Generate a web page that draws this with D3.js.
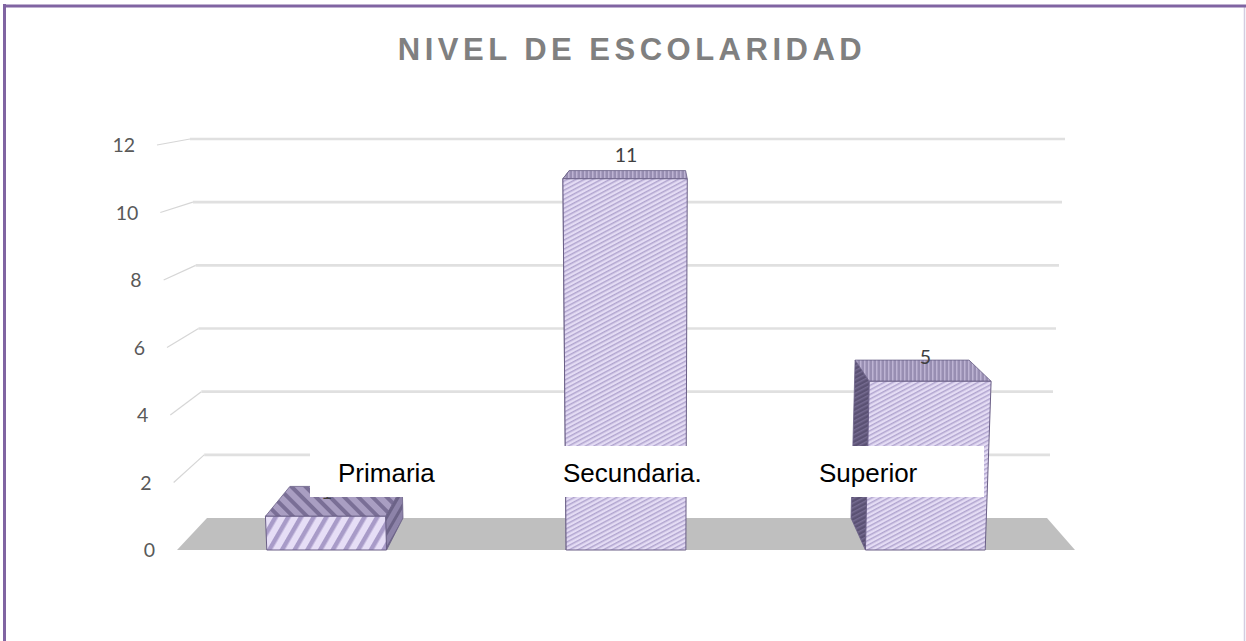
<!DOCTYPE html>
<html>
<head>
<meta charset="utf-8">
<script src="https://cdn.jsdelivr.net/npm/d3@7/dist/d3.min.js"></script>
<style>
  html, body { margin: 0; padding: 0; background: #fff; }
  svg { display: block; }
</style>
</head>
<body>
<svg id="chart" width="1246" height="641"></svg>
<script>
// ---- data ----
const title = "NIVEL DE ESCOLARIDAD";
const categories = ["Primaria", "Secundaria.", "Superior"];
const values = [1, 11, 5];
const yTicks = [0, 2, 4, 6, 8, 10, 12];

// ---- layout ----
const W = 1246, H = 641;
const svg = d3.select("#chart");

// perspective planes: front (z=0) and back (z=1)
const yFront = d3.scaleLinear().domain([0, 12]).range([550, 145]);
const yBack = d3.scaleLinear().domain([0, 12]).range([518, 139]);
const leftFront = d3.scaleLinear().domain([0, 12]).range([177, 157]);
const rightFront = d3.scaleLinear().domain([0, 12]).range([1075, 1093]);
const leftBack = d3.scaleLinear().domain([0, 12]).range([207, 190]);
const rightBack = d3.scaleLinear().domain([0, 12]).range([1047, 1065]);
const xBand = d3.scaleBand().domain(categories).range([0, 1])
  .paddingInner(0.6).paddingOuter(0.3);

function P(u, v, z) {
  const fx = leftFront(v) + u * (rightFront(v) - leftFront(v));
  const bx = leftBack(v) + u * (rightBack(v) - leftBack(v));
  const fy = yFront(v), by = yBack(v);
  return [fx + z * (bx - fx), fy + z * (by - fy)];
}
const poly = pts => pts.map(p => p.join(",")).join(" ");

// ---- patterns ----
const defs = svg.append("defs");
function stripes(id, base, stripe, size, sw, angle) {
  const p = defs.append("pattern").attr("id", id)
    .attr("patternUnits", "userSpaceOnUse")
    .attr("width", size).attr("height", size)
    .attr("patternTransform", `rotate(${angle})`);
  p.append("rect").attr("width", size).attr("height", size).attr("fill", base);
  p.append("rect").attr("x", 0).attr("y", 0).attr("width", sw).attr("height", size).attr("fill", stripe);
}
stripes("frontWide", "#e6def6", "#a89bc8", 11, 4.5, 30);
stripes("topWide", "#a99ec2", "#7a6f96", 10, 4, -45);
stripes("sideWide", "#8d83a9", "#6c6387", 8, 3, 30);
stripes("frontFine", "#e4dcf4", "#b1a5cf", 4, 1.5, 62);
stripes("topFine", "#988eb2", "#bdb3d3", 4, 1.5, 0);
stripes("sideFine", "#5a5173", "#756b90", 4, 1.5, 62);

// ---- border ----
svg.append("rect").attr("x", 0).attr("y", 0).attr("width", W).attr("height", H).attr("fill", "#fff");
svg.append("line").attr("x1", 1244.5).attr("x2", 1244.5).attr("y1", 6).attr("y2", H)
  .attr("stroke", "#d3cce0").attr("stroke-width", 1.5);
svg.append("line").attr("x1", 4.5).attr("x2", 4.5).attr("y1", 4).attr("y2", H)
  .attr("stroke", "#8064a2").attr("stroke-width", 3);
svg.append("line").attr("x1", 3).attr("x2", W).attr("y1", 6).attr("y2", 6)
  .attr("stroke", "#8064a2").attr("stroke-width", 3);

// ---- title ----
svg.append("text").attr("x", 632).attr("y", 60)
  .attr("text-anchor", "middle")
  .attr("font-family", "'Liberation Sans', Arial, sans-serif")
  .attr("font-weight", "bold").attr("font-size", 31)
  .attr("letter-spacing", 4.5)
  .attr("fill", "#808080").text(title);

// ---- gridlines ----
const grid = svg.append("g");
yTicks.filter(v => v > 0).forEach(v => {
  grid.append("line")
    .attr("x1", leftFront(v)).attr("y1", yFront(v))
    .attr("x2", leftBack(v)).attr("y2", yBack(v))
    .attr("stroke", "#d6d6d6").attr("stroke-width", 1.2);
  grid.append("line")
    .attr("x1", leftBack(v)).attr("y1", yBack(v))
    .attr("x2", rightBack(v)).attr("y2", yBack(v))
    .attr("stroke", "#e0e0e0").attr("stroke-width", 2.6);
});

// ---- floor ----
svg.append("polygon")
  .attr("points", poly([P(0, 0, 0), P(1, 0, 0), P(1, 0, 1), P(0, 0, 1)]))
  .attr("fill", "#bfbfbf");

// ---- y labels ----
svg.append("g").selectAll("text").data(yTicks).join("text")
  .attr("x", v => leftFront(v) - 22)
  .attr("y", v => yFront(v))
  .attr("dy", "0.36em")
  .attr("text-anchor", "end")
  .attr("font-family", "Lato, 'Open Sans', sans-serif")
  .attr("font-size", 19.5)
  .attr("fill", "#595959")
  .text(d => d);

// ---- bars ----
const bars = svg.append("g");
categories.forEach((c, i) => {
  const v = values[i];
  const u0 = xBand(c), u1 = xBand(c) + xBand.bandwidth();
  const wide = i === 0;
  const g = bars.append("g");
  const fr = P(u1, 0, 0), br = P(u1, 0, 1);
  let side;
  if (br[0] > fr[0]) side = [P(u1, 0, 0), P(u1, v, 0), P(u1, v, 1), P(u1, 0, 1)];
  else side = [P(u0, 0, 0), P(u0, v, 0), P(u0, v, 1), P(u0, 0, 1)];
  g.append("polygon").attr("points", poly(side))
    .attr("fill", wide ? "url(#sideWide)" : "url(#sideFine)")
    .attr("stroke", "#6a5f86").attr("stroke-width", 0.8);
  g.append("polygon").attr("points", poly([P(u0, v, 0), P(u1, v, 0), P(u1, v, 1), P(u0, v, 1)]))
    .attr("fill", wide ? "url(#topWide)" : "url(#topFine)")
    .attr("stroke", "#6a5f86").attr("stroke-width", 0.8);
  g.append("polygon").attr("points", poly([P(u0, 0, 0), P(u1, 0, 0), P(u1, v, 0), P(u0, v, 0)]))
    .attr("fill", wide ? "url(#frontWide)" : "url(#frontFine)")
    .attr("stroke", "#6a5f86").attr("stroke-width", 1);
});

// ---- data labels ----
svg.append("g").selectAll("text").data(categories).join("text")
  .attr("x", c => P(xBand(c) + xBand.bandwidth() / 2, 0, 0)[0])
  .attr("y", (c, i) => P(xBand(c) + xBand.bandwidth() / 2, values[i], 0)[1] - 17)
  .attr("text-anchor", "middle")
  .attr("font-family", "Lato, 'Open Sans', sans-serif")
  .attr("font-size", 19.5)
  .attr("fill", "#404040")
  .text((c, i) => values[i]);

// ---- category label boxes ----
const labelBoxes = [[310, 470], [470, 790], [790, 984]];
const labelX = [338, 563, 819];
const lg = svg.append("g");
categories.forEach((c, i) => {
  lg.append("rect").attr("x", labelBoxes[i][0]).attr("y", 446)
    .attr("width", labelBoxes[i][1] - labelBoxes[i][0]).attr("height", 51)
    .attr("fill", "#fff");
});
categories.forEach((c, i) => {
  lg.append("text").attr("x", labelX[i]).attr("y", 482)
    .attr("font-family", "'Liberation Sans', Arial, sans-serif")
    .attr("font-size", 26).attr("fill", "#000").text(c);
});
</script>
</body>
</html>
